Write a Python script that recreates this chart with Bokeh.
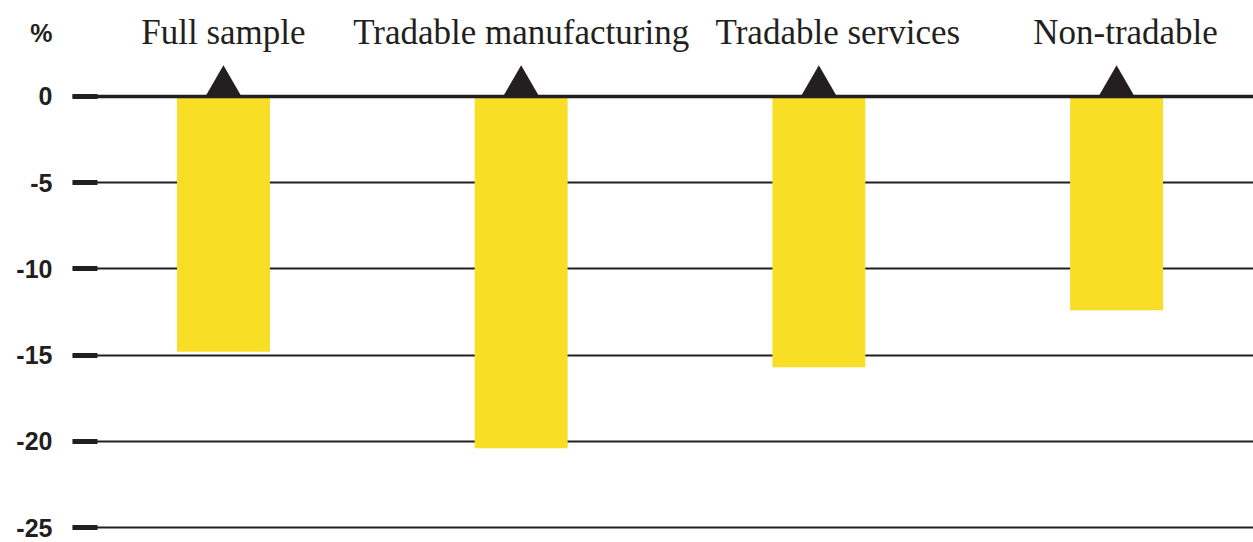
from bokeh.plotting import figure
from bokeh.models import Range1d, FixedTicker, Span, LinearAxis
from bokeh.core.properties import value
from bokeh.embed import file_html
from bokeh.resources import INLINE

categories = ["Full sample", "Tradable manufacturing", "Tradable services", "Non-tradable"]
values = [-14.8, -20.4, -15.7, -12.4]
y_ticks = [0, -5, -10, -15, -20, -25]
y_tick_labels = ["0", "-5", "-10", "-15", "-20", "-25"]
unit_label = "%"

positions = list(range(len(categories)))
baseline = [0] * len(categories)

# layout helpers (label placement, not data)
unit_label_y = 3.71          # row of the "%" unit label
heading_y = 3.71             # baseline of category headings
heading_nudge = [0, 0, 19, 9]  # px horizontal nudges as in the original artwork

INK = "#231F20"
YELLOW = "#F8DF26"

p = figure(width=1253, height=542, output_backend="svg", toolbar_location=None,
           x_range=Range1d(-0.507, 3.460), y_range=Range1d(-25.87, 5.568),
           x_axis_location=None, y_axis_location="left",
           min_border_left=72, min_border_right=0, min_border_top=0, min_border_bottom=0)
p.outline_line_color = None
p.background_fill_color = "white"
p.border_fill_color = "white"
p.xgrid.visible = False

# inner axis: only the thick tick stubs
ya = p.yaxis[0]
ya.ticker = FixedTicker(ticks=y_ticks)
ya.major_label_overrides = {t: "" for t in y_ticks}
ya.major_label_standoff = 0
ya.major_label_text_font_size = "0px"
ya.major_tick_in = 25
ya.major_tick_out = 0
ya.major_tick_line_width = 5
ya.major_tick_line_color = INK
ya.minor_tick_in = 0
ya.minor_tick_out = 0
ya.axis_line_color = None

# outer axis: the labels, including the "%" unit at the top
label_ticks = y_ticks + [unit_label_y]
overrides = {t: s for t, s in zip(y_ticks, y_tick_labels)}
overrides[unit_label_y] = unit_label
la = LinearAxis(ticker=FixedTicker(ticks=label_ticks), major_label_overrides=overrides)
la.major_label_text_font = "Liberation Sans"
la.major_label_text_font_style = "bold"
la.major_label_text_font_size = "25px"
la.major_label_text_color = INK
la.major_label_standoff = 20
la.major_tick_in = 0
la.major_tick_out = 0
la.minor_tick_in = 0
la.minor_tick_out = 0
la.axis_line_color = None
p.add_layout(la, "left")

p.ygrid.ticker = FixedTicker(ticks=y_ticks)
p.ygrid.grid_line_color = INK
p.ygrid.grid_line_width = 2
p.ygrid.grid_line_alpha = 1

# category headings
p.text(x=positions, y=[heading_y] * len(categories), text=categories,
       x_offset=heading_nudge, text_align="center", text_baseline="alphabetic",
       text_font=value("Liberation Serif"), text_font_size="35px", text_color=INK)

# triangles marking the zero point (lower part hidden behind the bars)
p.scatter(x=positions, y=baseline, marker="triangle", size=54,
          fill_color=INK, line_color=None)

# bars
p.vbar(x=positions, width=0.312, top=baseline, bottom=values,
       fill_color=YELLOW, line_color=None)

p.add_layout(Span(location=0, dimension="width", line_color=INK, line_width=3.5))

open("out.html", "w").write(file_html(p, INLINE))
